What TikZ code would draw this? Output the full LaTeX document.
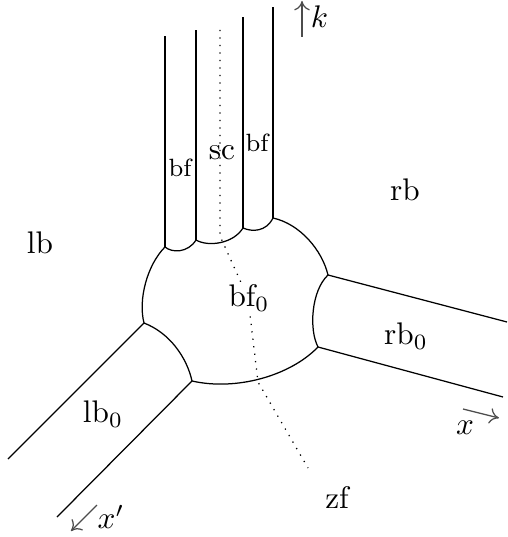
\documentclass[tikz,border=0pt]{standalone}
\usepackage{tikz}
\usetikzlibrary{arrows.meta}

\tikzset{
  face/.style={thin},
  axisarrow/.style={-{To[length=3pt,width=5pt]},thin,black!70},
  facelabel/.style={inner sep=1pt}
}

\begin{document}
\begin{tikzpicture}[x=0.32pt,y=-0.32pt]
        \useasboundingbox (0,0) rectangle (507,537);

        % Junctions
        \coordinate (tl) at (165,247);
        \coordinate (tm) at (196,240);
        \coordinate (tn) at (243,228);
        \coordinate (tr) at (273,218);
        \coordinate (rt) at (328,275);
        \coordinate (rd) at (318,347);
        \coordinate (ld) at (192,381);
        \coordinate (lt) at (144,323);

        % Top strips
        \draw[face] (tl) -- (165,36);
        \draw[face] (tm) -- (196,30);
        \draw[face] (tn) -- (243,17);
        \draw[face] (tr) -- (273,7);
        \draw[face] (tl) .. controls (172,253) and (188,253) .. (tm);
        \draw[face] (tm) .. controls (208,247) and (233,244) .. (tn);
        \draw[face] (tn) .. controls (252,232) and (266,232) .. (tr);

        % Front face bf_0
        \draw[face] (tr) .. controls (300,224) and (322,250) .. (rt);
        \draw[face] (rt) .. controls (311,291) and (309,330) .. (rd);
        \draw[face] (rd) .. controls (290,376) and (236,391) .. (ld);
        \draw[face] (ld) .. controls (187,358) and (170,333) .. (lt);
        \draw[face] (lt) .. controls (138,300) and (147,265) .. (tl);

        % Side strips
        \draw[face] (rt) -- (507,322);
        \draw[face] (rd) -- (503,397);
        \draw[face] (lt) -- (8,459);
        \draw[face] (ld) -- (57,517);

        % Dotted line
        \draw[dotted,thin] (220,30) -- (220,236) -- (248,298) -- (258,382) -- (308,468);

        % Labels
        \node[facelabel] (bfl) at (180,168) {\footnotesize bf};
        \node[facelabel] (sc) at (222,153) {sc};
        \node[facelabel] (bfr) at (257,143) {\footnotesize bf};
        \node[facelabel] (lb) at (40,243) {lb};
        \node[facelabel] (rb) at (405,190) {rb};
        \node[facelabel,fill=white] (bfo) at (249,298) {bf$_0$};
        \node[facelabel] (rbo) at (406,336) {rb$_0$};
        \node[facelabel] (lbo) at (103,414) {lb$_0$};
        \node[facelabel] (zf) at (337,497) {zf};

        % Axes
        \coordinate (kfoot) at (302,37);
        \coordinate (ktip) at (302,1);
        \draw[axisarrow] (kfoot) -- (ktip);
        \node[anchor=west,inner sep=1pt] (k) at (307,17) {$k$};
        \coordinate (xfoot) at (463,409);
        \coordinate (xtip) at (499,418);
        \draw[axisarrow] (xfoot) -- (xtip);
        \node[inner sep=1pt] (x) at (465,428) {$x$};
        \coordinate (xpfoot) at (97,505);
        \coordinate (xptip) at (71,531);
        \draw[axisarrow] (xpfoot) -- (xptip);
        \node[inner sep=1pt] (xp) at (111,517) {$x'$};
\end{tikzpicture}
\end{document}
